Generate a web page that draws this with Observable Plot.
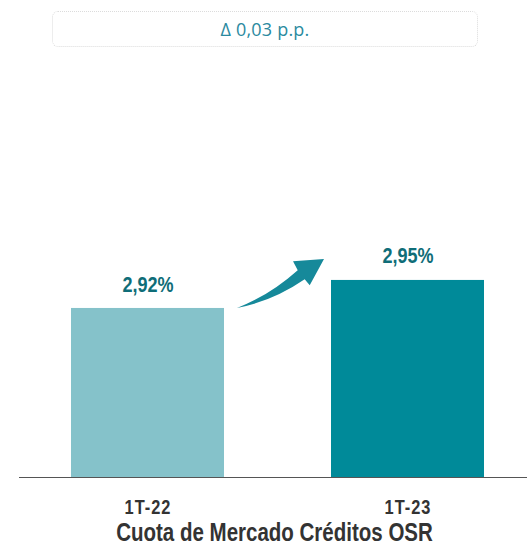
<!DOCTYPE html>
<html>
<head>
<meta charset="utf-8">
<script src="https://cdn.jsdelivr.net/npm/d3@7"></script>
<script src="https://cdn.jsdelivr.net/npm/@observablehq/plot@0.6"></script>
<style>
  html, body { margin: 0; padding: 0; background: #fff; }
  #wrap { position: relative; width: 527px; height: 545px; }
  #delta {
    position: absolute; left: 52px; top: 11px; width: 424px; height: 34px;
    border: 1px dotted #dcdcdc; border-radius: 6px;
    display: flex; align-items: center; justify-content: center;
    font-family: "Open Sans", sans-serif; font-size: 18px; color: #2b8aa0;
    letter-spacing: 0.2px;
  }
  #chart { position: absolute; left: 0; top: 0; }
</style>
</head>
<body>
<div id="wrap">
  <div id="chart"></div>
  <div id="delta"></div>
</div>
<script>
const categories = ["1T-22", "1T-23"];
const values = [2.92, 2.95];
const valueLabels = ["2,92%", "2,95%"];
const barColors = ["#85c2ca", "#008a99"];
const deltaText = "\u0394 0,03 p.p.";
const axisTitle = "Cuota de Mercado Créditos OSR";

document.getElementById("delta").textContent = deltaText;

const data = categories.map((c, i) => ({cat: c, value: values[i], label: valueLabels[i], color: barColors[i]}));
const font = "'Liberation Sans', Arial, sans-serif";
const squeeze = 0.82; // emulate a narrow face

function arrowMark(index, scales) {
  const x = scales.x, y = scales.y;
  const bw = x.bandwidth();
  const tx = x(categories[0]) + bw + 13, ty = y(values[0]);
  const px = x(categories[1]) - 7, py = y(values[1]) - 21;
  const dx = px - tx, dy = py - ty;
  const p = (u, v) => [tx + u * dx, ty + v * dy];
  const pts = {
    T: p(0, 0), C1: p(0.371, 0.254), N1: p(0.698, 0.771), B1: p(0.644, 0.952),
    P: p(1, 1), B2: p(0.836, 0.463), N2: p(0.778, 0.584), C2: p(0.411, 0.136)
  };
  const f = a => a.join(",");
  const d = `M${f(pts.T)} Q${f(pts.C1)} ${f(pts.N1)} L${f(pts.B1)} L${f(pts.P)} L${f(pts.B2)} L${f(pts.N2)} Q${f(pts.C2)} ${f(pts.T)} Z`;
  const g = d3.create("svg:g");
  g.append("path").attr("d", d).attr("fill", "#16899a");
  return g.node();
}

const chart = Plot.plot({
  width: 527,
  height: 545,
  marginLeft: 27,
  marginRight: 0,
  marginTop: 60,
  marginBottom: 68,
  x: {domain: categories, paddingInner: 0.4127, paddingOuter: 0.166},
  y: {domain: [2.739, 3.1855], axis: null},
  style: {fontFamily: font, background: "transparent"},
  marks: [
    Plot.barY(data, {x: "cat", y1: 2.739, y2: "value", fill: "color"}),
    Plot.ruleY([2.739], {stroke: "#555", strokeWidth: 1, insetLeft: -8}),
    Plot.text(data, {x: "cat", y: "value", text: "label", dy: -24, lineAnchor: "middle", fill: "#0f6d78",
      fontSize: 22, fontWeight: "bold", fontFamily: font}),
    arrowMark,
    Plot.axisX({tickSize: 0, tickPadding: 22, fontSize: 20, fontWeight: "bold", color: "#333",
      label: null, fontFamily: font}),
    Plot.text([axisTitle], {frameAnchor: "bottom", lineAnchor: "middle", dy: 55, dx: -3, fontSize: 25,
      fontWeight: "bold", fill: "#333", fontFamily: font})
  ]
});

// horizontally compress all chart texts around their anchor
d3.select(chart).selectAll("text").each(function() {
  const t = this.getAttribute("transform");
  if (t) this.setAttribute("transform", t + ` scale(${squeeze},1)`);
  else {
    const x = +this.getAttribute("x") || 0, y = +this.getAttribute("y") || 0;
    this.setAttribute("transform", `translate(${x},${y}) scale(${squeeze},1) translate(${-x},${-y})`);
  }
});
d3.select(chart).selectAll("g[aria-label='x-axis tick label'] text").style("letter-spacing", "1.2px");

document.getElementById("chart").appendChild(chart);
</script>
</body>
</html>
